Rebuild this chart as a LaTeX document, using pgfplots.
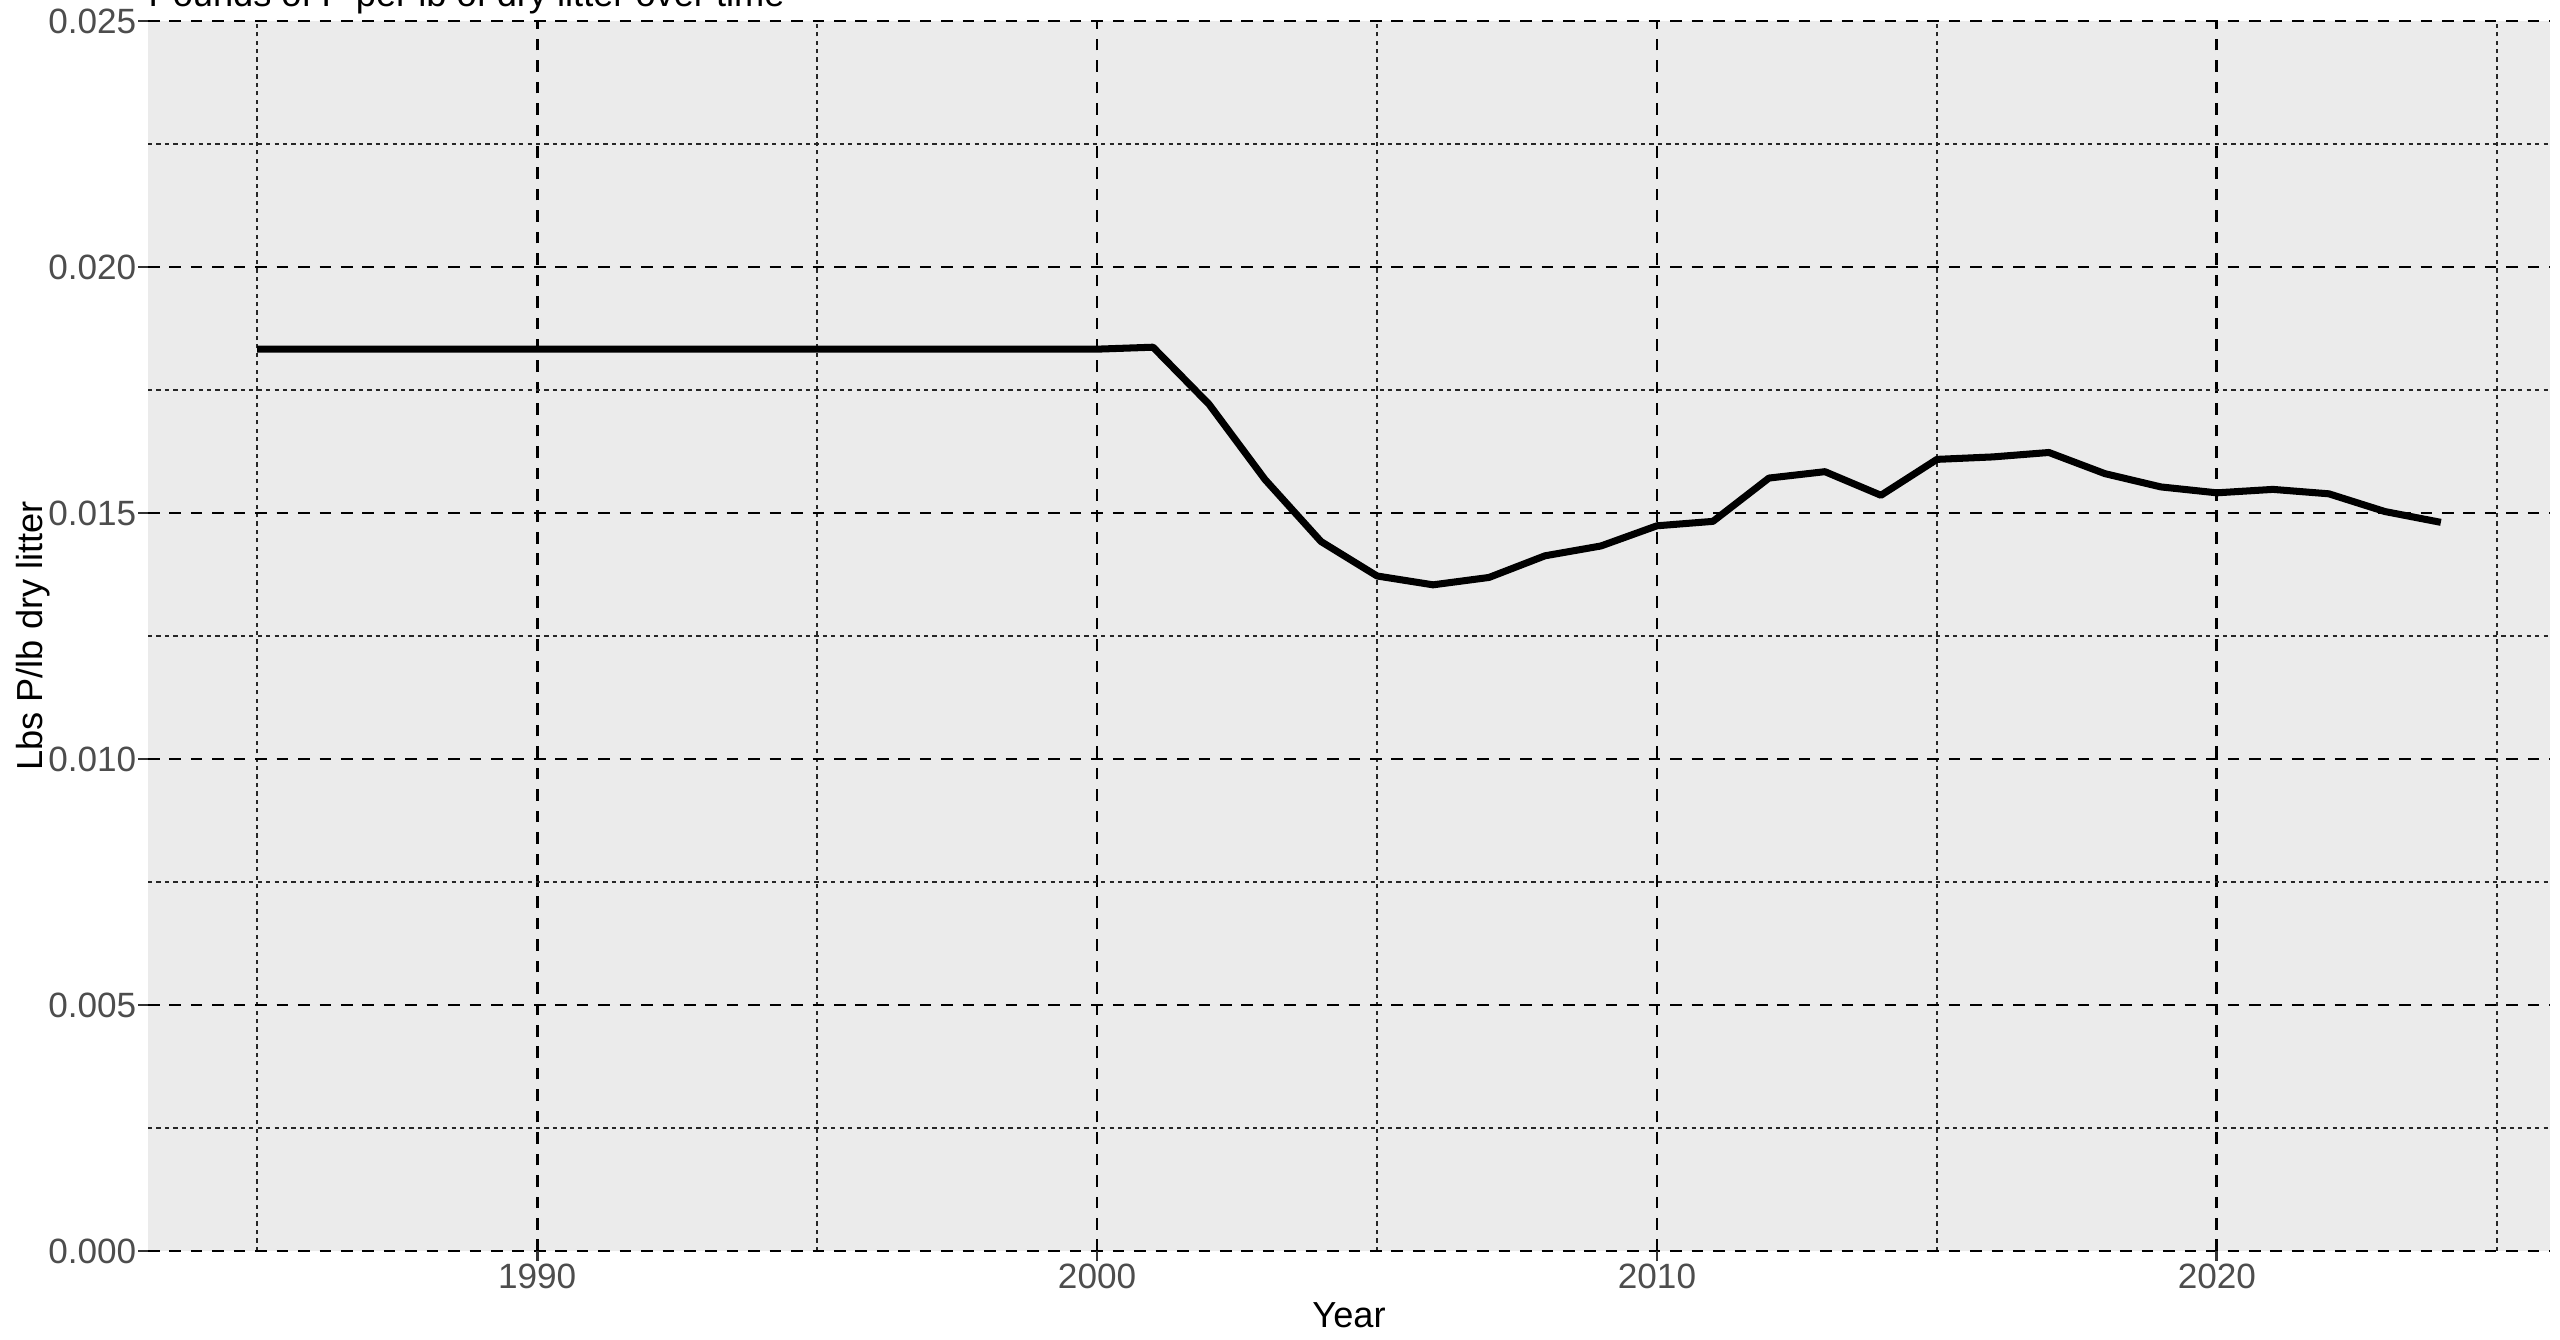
\documentclass[border=0pt]{standalone}
\usepackage{fontspec}
\setmainfont{Liberation Sans}
\usepackage{pgfplots}
\pgfplotsset{compat=1.18}
\definecolor{panelbg}{HTML}{EBEBEB}
\definecolor{ticklab}{HTML}{4D4D4D}
\definecolor{tickcol}{HTML}{333333}
\begin{document}
\begin{tikzpicture}
\begin{axis}[
  at={(1.48cm,-0.21cm)}, anchor=north west,
  width=24.02cm, height=12.30cm, scale only axis,
  xmin=1983.05, xmax=2025.95, ymin=0, ymax=0.025,
  axis background/.style={fill=panelbg},
  axis line style={draw=none},
  xtick={1990,2000,2010,2020},
  ytick={0,0.005,0.010,0.015,0.020,0.025},
  minor xtick={1985,1995,2005,2015,2025},
  minor ytick={0.0025,0.0075,0.0125,0.0175,0.0225},
  grid=both,
  major grid style={black, line width=0.8pt, dash pattern=on 3.3pt off 2.8pt},
  minor grid style={black!85, line width=0.5pt, dash pattern=on 1.2pt off 1.2pt},
  tick align=outside,
  xtick pos=bottom, ytick pos=left,
  major tick length=0.1cm, minor tick length=0pt,
  tick style={tickcol, line width=0.8pt, solid},
  scaled y ticks=false,
  /pgf/number format/assume math mode=true,
  yticklabel style={/pgf/number format/fixed, /pgf/number format/fixed zerofill, /pgf/number format/precision=3, font=\fontsize{10}{12}\selectfont, text=ticklab, inner sep=0pt, xshift=-0.01cm},
  xticklabel style={/pgf/number format/1000 sep={}, font=\fontsize{10}{12}\selectfont, text=ticklab, inner sep=0pt, yshift=-0.02cm},
  xlabel={Year},
  ylabel={Lbs P/lb dry litter},
  xlabel style={at={(axis description cs:0.5,0)}, anchor=base, yshift=-0.76cm, font=\fontsize{10.3}{12}\selectfont, inner sep=0pt},
  ylabel style={at={(axis description cs:0,0.5)}, anchor=base, yshift=1.06cm, font=\fontsize{10.3}{12}\selectfont, inner sep=0pt},
]
\addplot[black, line width=2pt, line join=round, line cap=butt] coordinates {
(1985,0.01833) (1986,0.01833) (1987,0.01833) (1988,0.01833) (1989,0.01833)
(1990,0.01833) (1991,0.01833) (1992,0.01833) (1993,0.01833) (1994,0.01833)
(1995,0.01833) (1996,0.01833) (1997,0.01833) (1998,0.01833) (1999,0.01833)
(2000,0.01833) (2001,0.01837) (2002,0.01721) (2003,0.01568) (2004,0.01442)
(2005,0.01372) (2006,0.01354) (2007,0.01369) (2008,0.01413) (2009,0.01433)
(2010,0.01474) (2011,0.01483) (2012,0.01571) (2013,0.01584) (2014,0.01536)
(2015,0.01609) (2016,0.01614) (2017,0.01623) (2018,0.01580) (2019,0.01553)
(2020,0.01541) (2021,0.01548) (2022,0.01539) (2023,0.01503) (2024,0.01481)
};
\end{axis}
\node[anchor=base west, inner sep=0pt, font=\fontsize{10.3}{12}\selectfont] at (1.48cm,-0.07cm) {Pounds of P per lb of dry litter over time};
\pgfresetboundingbox
\useasboundingbox (0,0) rectangle (25.6cm,-13.4cm);
\end{tikzpicture}
\end{document}
